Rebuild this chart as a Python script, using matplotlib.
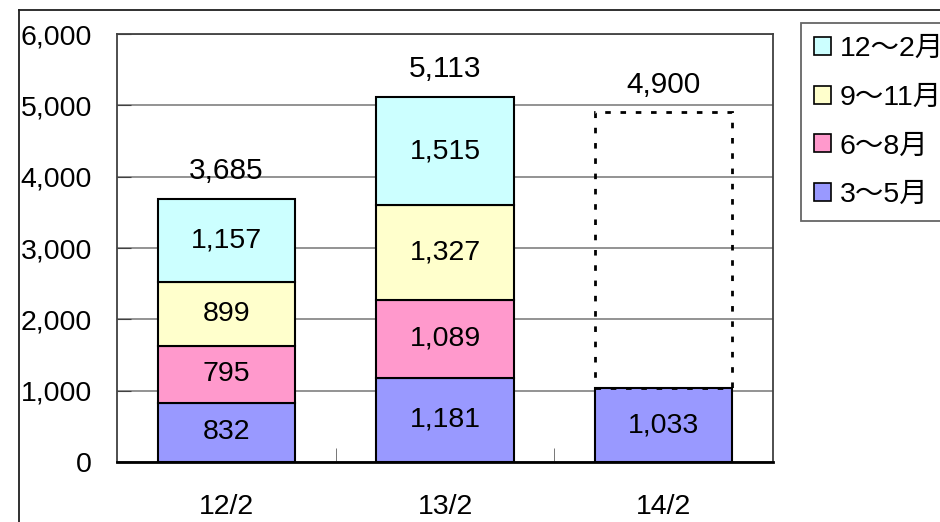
import numpy as np
import matplotlib
matplotlib.use('Agg')
import matplotlib.pyplot as plt
from matplotlib.lines import Line2D
from matplotlib.patches import Patch

plt.rcParams['font.family'] = ['Liberation Sans', 'Noto Sans CJK JP']

categories = ['12/2', '13/2', '14/2']
series_names = ['3～5月', '6～8月', '9～11月', '12～2月']
mar_may = [832, 1181, 1033]
jun_aug = [795, 1089, 0]
sep_nov = [899, 1327, 0]
dec_feb = [1157, 1515, 0]
totals = ['3,685', '5,113', '4,900']
total_values = [3685, 5113, 4900]
forecast_idx = 2  # 14/2 only has the first quarter; the rest is a forecast
colors = ['#9999FF', '#FF99CC', '#FFFFCC', '#CCFFFF']

fig = plt.figure(figsize=(9.4, 5.22), dpi=100)
ax = fig.add_axes([117 / 940, 1 - 462 / 522, 656 / 940, 428 / 522])

x = np.arange(len(categories))
width = 0.627
bottom = np.zeros(len(categories))
series = [mar_may, jun_aug, sep_nov, dec_feb]
for vals, col in zip(series, colors):
    vals = np.array(vals)
    mask = vals > 0
    ax.bar(x[mask], vals[mask], width, bottom=bottom[mask], color=col,
           edgecolor='black', linewidth=1.5, zorder=3)
    for xi, v, b in zip(x[mask], vals[mask], bottom[mask]):
        ax.text(xi, b + v / 2, f'{v:,}', ha='center', va='center',
                fontsize=20.5, zorder=5)
    bottom = bottom + vals

# dotted forecast box for 14/2
fb = mar_may[forecast_idx]
ax.bar(x[forecast_idx], total_values[forecast_idx] - fb, width, bottom=fb,
       fill=False, edgecolor='black', linewidth=2, linestyle=(0, (2, 3.5)), zorder=4)

for xi, t, v in zip(x, totals, total_values):
    ax.annotate(t, (xi, v), xytext=(0, 20), textcoords='offset points',
                ha='center', va='center', fontsize=21.5, zorder=5)

ax.set_xlim(-0.5, 2.5)
ax.set_ylim(0, 6000)
ax.set_yticks(np.arange(0, 6001, 1000))
ax.set_yticklabels([f'{v:,}' for v in range(0, 6001, 1000)], fontsize=20.5)
ax.yaxis.grid(True, color='#808080', linewidth=1.2, zorder=0)
ax.set_xticks(x)
ax.set_xticklabels(categories, fontsize=20.5)
ax.set_xticks([0.5, 1.5], minor=True)
ax.tick_params(axis='x', which='major', length=0, pad=23)
ax.tick_params(axis='x', which='minor', direction='in', length=10, color='#606060')
ax.tick_params(axis='y', direction='in', length=10, pad=18, color='#404040')

for side in ['top', 'right', 'left']:
    ax.spines[side].set_color('#404040')
    ax.spines[side].set_linewidth(1.3)
ax.spines['bottom'].set_color('black')
ax.spines['bottom'].set_linewidth(2)

# legend (top entry is 12~2月)
handles = [Patch(facecolor=c, edgecolor='black', linewidth=1.2) for c in colors[::-1]]
leg = fig.legend(handles, series_names[::-1], loc='upper left',
                 bbox_to_anchor=(801 / 940, 1 - 23 / 522), fontsize=20.5,
                 frameon=True, fancybox=False, edgecolor='#404040',
                 handlelength=0.6, handleheight=0.6, handletextpad=0.3,
                 labelspacing=0.8, borderpad=0.45, borderaxespad=0)
leg.get_frame().set_linewidth(1.3)

# outer chart frame
fig.add_artist(Line2D([19 / 940, 19 / 940], [0, 1 - 10 / 522], color='#202020', linewidth=1.3))
fig.add_artist(Line2D([19 / 940, 1], [1 - 10 / 522, 1 - 10 / 522], color='#202020', linewidth=1.3))

fig.savefig('out.png', dpi=100)
